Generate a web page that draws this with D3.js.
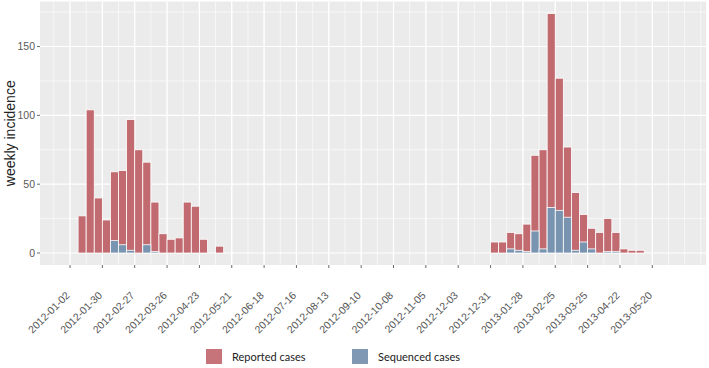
<!DOCTYPE html>
<html>
<head>
<meta charset="utf-8">
<script src="https://cdn.jsdelivr.net/npm/d3@7"></script>
<style>
  html, body { margin: 0; padding: 0; background: #ffffff; }
  svg { display: block; }
</style>
</head>
<body>
<svg id="chart" width="709" height="368"></svg>
<script>
// ---- data ----
const weekStarts = [
  "2012-01-09","2012-01-16","2012-01-23","2012-01-30","2012-02-06","2012-02-13",
  "2012-02-20","2012-02-27","2012-03-05","2012-03-12","2012-03-19","2012-03-26",
  "2012-04-02","2012-04-09","2012-04-16","2012-04-23","2012-04-30","2012-05-07",
  "2012-12-31","2013-01-07","2013-01-14","2013-01-21","2013-01-28","2013-02-04",
  "2013-02-11","2013-02-18","2013-02-25","2013-03-04","2013-03-11","2013-03-18",
  "2013-03-25","2013-04-01","2013-04-08","2013-04-15","2013-04-22","2013-04-29",
  "2013-05-06"
];
const reported = [
  27,104,40,24,59,60,97,75,66,37,14,10,11,37,34,10,0,5,
  8,8,15,14,21,71,75,174,127,77,44,28,18,15,25,15,3,2,2
];
const sequenced = [
  0,0,0,0,9,6,2,0,6,1,0,0,0,0,0,0,0,0,
  0,0,3,2,1,16,3,33,31,26,2,8,3,0,1,1,0,0,0
];
const xTickLabels = [
  "2012-01-02","2012-01-30","2012-02-27","2012-03-26","2012-04-23","2012-05-21",
  "2012-06-18","2012-07-16","2012-08-13","2012-09-10","2012-10-08","2012-11-05",
  "2012-12-03","2012-12-31","2013-01-28","2013-02-25","2013-03-25","2013-04-22",
  "2013-05-20"
];
const yTickValues = [0, 50, 100, 150];
const yMinorValues = [25, 75, 125, 175];
const legendLabels = ["Reported cases", "Sequenced cases"];

// ---- layout ----
const panel = { left: 40, right: 706, top: 1.5, bottom: 265 };
const colRed = "#c16b70";
const colBlue = "#7994b0";
const parse = d3.utcParse("%Y-%m-%d");
const DAY = 86400000;

const svg = d3.select("#chart");

const x = d3.scaleUtc()
  .domain([parse(xTickLabels[0]), parse(xTickLabels[xTickLabels.length - 1])])
  .range([70, 652.3]);

const yMax = d3.max(reported);
const pad = yMax * 0.05;
const y = d3.scaleLinear().domain([-pad, yMax + pad]).range([panel.bottom, panel.top]);

// panel background
svg.append("rect")
  .attr("x", panel.left).attr("y", panel.top)
  .attr("width", panel.right - panel.left).attr("height", panel.bottom - panel.top)
  .attr("fill", "#ebebeb");

const grid = svg.append("g");

// minor vertical grid lines every 2 weeks
const t0 = parse(xTickLabels[0]).getTime();
const minorX = [];
for (let k = -10; k < 60; k++) {
  const px = x(new Date(t0 + k * 14 * DAY));
  if (px > panel.left && px < panel.right) minorX.push(px);
}
grid.selectAll("line.vminor").data(minorX).join("line")
  .attr("x1", d => d).attr("x2", d => d)
  .attr("y1", panel.top).attr("y2", panel.bottom)
  .attr("stroke", "#ffffff").attr("stroke-width", 0.6);

// minor horizontal
grid.selectAll("line.hminor").data(yMinorValues).join("line")
  .attr("x1", panel.left).attr("x2", panel.right)
  .attr("y1", d => y(d)).attr("y2", d => y(d))
  .attr("stroke", "#ffffff").attr("stroke-width", 0.6);

// major vertical
grid.selectAll("line.vmajor").data(xTickLabels).join("line")
  .attr("x1", d => x(parse(d))).attr("x2", d => x(parse(d)))
  .attr("y1", panel.top).attr("y2", panel.bottom)
  .attr("stroke", "#ffffff").attr("stroke-width", 1.2);

// major horizontal
grid.selectAll("line.hmajor").data(yTickValues).join("line")
  .attr("x1", panel.left).attr("x2", panel.right)
  .attr("y1", d => y(d)).attr("y2", d => y(d))
  .attr("stroke", "#ffffff").attr("stroke-width", 1.2);

// bars
const rows = weekStarts.map((w, i) => ({
  start: parse(w),
  end: new Date(parse(w).getTime() + 7 * DAY),
  rep: reported[i],
  seq: sequenced[i]
}));

svg.append("g").selectAll("rect").data(rows.filter(d => d.rep > 0)).join("rect")
  .attr("x", d => x(d.start))
  .attr("width", d => x(d.end) - x(d.start))
  .attr("y", d => y(d.rep))
  .attr("height", d => y(0) - y(d.rep))
  .attr("fill", colRed)
  .attr("stroke", "#ffffff").attr("stroke-width", 0.8);

svg.append("g").selectAll("rect").data(rows.filter(d => d.seq > 0)).join("rect")
  .attr("x", d => x(d.start))
  .attr("width", d => x(d.end) - x(d.start))
  .attr("y", d => y(d.seq))
  .attr("height", d => y(0) - y(d.seq))
  .attr("fill", colBlue)
  .attr("stroke", "#ffffff").attr("stroke-width", 0.8);

// y axis
const yAxis = svg.append("g");
yAxis.selectAll("line").data(yTickValues).join("line")
  .attr("x1", panel.left - 3).attr("x2", panel.left)
  .attr("y1", d => y(d)).attr("y2", d => y(d))
  .attr("stroke", "#444").attr("stroke-width", 0.8);
yAxis.selectAll("text").data(yTickValues).join("text")
  .attr("x", panel.left - 5).attr("y", d => y(d))
  .attr("dy", "0.35em")
  .attr("text-anchor", "end")
  .attr("font-family", "Liberation Sans, Arial, sans-serif")
  .attr("font-size", 10.5)
  .attr("fill", "#5a5a5a")
  .text(d => d);

svg.append("text")
  .attr("transform", `translate(15, ${(panel.top + panel.bottom) / 2}) rotate(-90)`)
  .attr("text-anchor", "middle")
  .attr("font-family", "Liberation Sans, Arial, sans-serif")
  .attr("font-size", 14)
  .attr("fill", "#222")
  .text("weekly incidence");

// x axis
const xAxis = svg.append("g");
xAxis.selectAll("line").data(xTickLabels).join("line")
  .attr("x1", d => x(parse(d))).attr("x2", d => x(parse(d)))
  .attr("y1", panel.bottom).attr("y2", panel.bottom + 3)
  .attr("stroke", "#444").attr("stroke-width", 0.8);
xAxis.selectAll("text").data(xTickLabels).join("text")
  .attr("transform", d => `translate(${x(parse(d)) + 0.5}, 296) rotate(-45)`)
  .attr("text-anchor", "end")
  .attr("font-family", "Liberation Sans, Arial, sans-serif")
  .attr("font-size", 10.5)
  .attr("fill", "#555")
  .text(d => d);

// legend
const legend = svg.append("g");
const legendX = [206, 352];
const legendColors = ["#c6747a", "#8098b3"];
legendLabels.forEach((lab, i) => {
  legend.append("rect")
    .attr("x", legendX[i]).attr("y", 349)
    .attr("width", 16).attr("height", 15)
    .attr("fill", legendColors[i]);
  legend.append("text")
    .attr("x", legendX[i] + 26).attr("y", 361)
    .attr("font-family", "Lato, 'Open Sans', sans-serif")
    .attr("font-size", 11)
    .attr("fill", "#222")
    .text(lab);
});
</script>
</body>
</html>
